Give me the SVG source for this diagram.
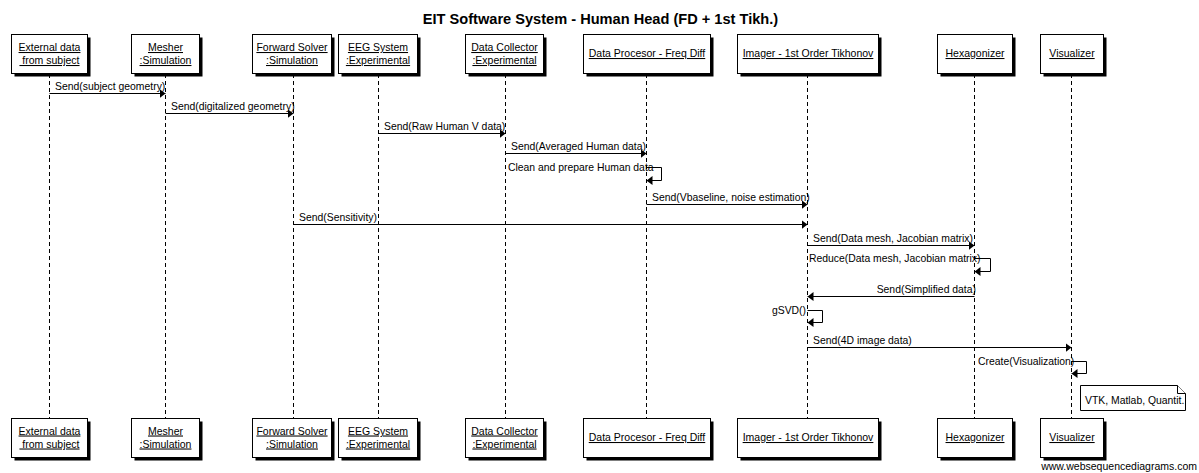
<svg xmlns="http://www.w3.org/2000/svg" width="1199" height="473" viewBox="0 0 1199 473">
<style>
  text { font-family: "Liberation Sans", Arial, sans-serif; fill: #000; }
  .title { font-size: 14.6px; font-weight: bold; text-anchor: middle; }
  .lbl { font-size: 10.5px; text-anchor: middle; text-decoration: underline; }
  .msg { font-size: 10.4px; }
  .end { text-anchor: end; }
  .shadow { fill: #000; stroke: none; }
  .box { fill: #fff; stroke: #000; stroke-width: 1; }
  .life { stroke: #000; stroke-width: 1; stroke-dasharray: 4 3; fill: none; }
  .arr { stroke: #000; stroke-width: 1; fill: none; marker-end: url(#ah); }
  .note { fill: #fff; stroke: #000; stroke-width: 1; }
</style>
<defs>
  <marker id="ah" viewBox="0 0 6 9" refX="6" refY="4.5" markerWidth="6" markerHeight="9" markerUnits="userSpaceOnUse" orient="auto">
    <path d="M0,0 L6,4.5 L0,9 z" fill="#000"/>
  </marker>
</defs>
<rect width="1199" height="473" fill="#fff"/>
<text class="title" x="600.5" y="24">EIT Software System - Human Head (FD + 1st Tikh.)</text>

<g id="lifelines">
  <line class="life" x1="49.5" y1="74" x2="49.5" y2="418"/>
  <line class="life" x1="165.5" y1="74" x2="165.5" y2="418"/>
  <line class="life" x1="293.5" y1="74" x2="293.5" y2="418"/>
  <line class="life" x1="378.5" y1="74" x2="378.5" y2="418"/>
  <line class="life" x1="505.5" y1="74" x2="505.5" y2="418"/>
  <line class="life" x1="646.5" y1="74" x2="646.5" y2="418"/>
  <line class="life" x1="807.5" y1="74" x2="807.5" y2="418"/>
  <line class="life" x1="974.5" y1="74" x2="974.5" y2="418"/>
  <line class="life" x1="1071.5" y1="74" x2="1071.5" y2="418"/>
</g>

<g id="p-external">
  <rect class="shadow" x="14.5" y="37.5" width="76" height="39"/>
  <rect class="box" x="11.5" y="34.5" width="76" height="39"/>
  <text class="lbl" x="49.5" y="51">External data</text>
  <text class="lbl" x="49.5" y="64" xml:space="preserve"> from subject</text>
  <rect class="shadow" x="14.5" y="421.5" width="76" height="39"/>
  <rect class="box" x="11.5" y="418.5" width="76" height="39"/>
  <text class="lbl" x="49.5" y="434.5">External data</text>
  <text class="lbl" x="49.5" y="447.5" xml:space="preserve"> from subject</text>
</g>
<g id="p-mesher">
  <rect class="shadow" x="134.5" y="37.5" width="68" height="39"/>
  <rect class="box" x="131.5" y="34.5" width="68" height="39"/>
  <text class="lbl" x="165.5" y="51">Mesher</text>
  <text class="lbl" x="165.5" y="64">:Simulation</text>
  <rect class="shadow" x="134.5" y="421.5" width="68" height="39"/>
  <rect class="box" x="131.5" y="418.5" width="68" height="39"/>
  <text class="lbl" x="165.5" y="434.5">Mesher</text>
  <text class="lbl" x="165.5" y="447.5">:Simulation</text>
</g>
<g id="p-forward">
  <rect class="shadow" x="255.5" y="37.5" width="79" height="39"/>
  <rect class="box" x="252.5" y="34.5" width="79" height="39"/>
  <text class="lbl" x="292" y="51">Forward Solver</text>
  <text class="lbl" x="292" y="64">:Simulation</text>
  <rect class="shadow" x="255.5" y="421.5" width="79" height="39"/>
  <rect class="box" x="252.5" y="418.5" width="79" height="39"/>
  <text class="lbl" x="292" y="434.5">Forward Solver</text>
  <text class="lbl" x="292" y="447.5">:Simulation</text>
</g>
<g id="p-eeg">
  <rect class="shadow" x="341.5" y="37.5" width="79" height="39"/>
  <rect class="box" x="338.5" y="34.5" width="79" height="39"/>
  <text class="lbl" x="378" y="51">EEG System</text>
  <text class="lbl" x="378" y="64">:Experimental</text>
  <rect class="shadow" x="341.5" y="421.5" width="79" height="39"/>
  <rect class="box" x="338.5" y="418.5" width="79" height="39"/>
  <text class="lbl" x="378" y="434.5">EEG System</text>
  <text class="lbl" x="378" y="447.5">:Experimental</text>
</g>
<g id="p-collector">
  <rect class="shadow" x="468.5" y="37.5" width="78" height="39"/>
  <rect class="box" x="465.5" y="34.5" width="78" height="39"/>
  <text class="lbl" x="504.5" y="51">Data Collector</text>
  <text class="lbl" x="504.5" y="64">:Experimental</text>
  <rect class="shadow" x="468.5" y="421.5" width="78" height="39"/>
  <rect class="box" x="465.5" y="418.5" width="78" height="39"/>
  <text class="lbl" x="504.5" y="434.5">Data Collector</text>
  <text class="lbl" x="504.5" y="447.5">:Experimental</text>
</g>
<g id="p-processor">
  <rect class="shadow" x="586.5" y="37.5" width="127" height="39"/>
  <rect class="box" x="583.5" y="34.5" width="127" height="39"/>
  <text class="lbl" x="647" y="57">Data Procesor - Freq Diff</text>
  <rect class="shadow" x="586.5" y="421.5" width="127" height="39"/>
  <rect class="box" x="583.5" y="418.5" width="127" height="39"/>
  <text class="lbl" x="647" y="441">Data Procesor - Freq Diff</text>
</g>
<g id="p-imager">
  <rect class="shadow" x="740.5" y="37.5" width="141" height="39"/>
  <rect class="box" x="737.5" y="34.5" width="141" height="39"/>
  <text class="lbl" x="808" y="57">Imager - 1st Order Tikhonov</text>
  <rect class="shadow" x="740.5" y="421.5" width="141" height="39"/>
  <rect class="box" x="737.5" y="418.5" width="141" height="39"/>
  <text class="lbl" x="808" y="441">Imager - 1st Order Tikhonov</text>
</g>
<g id="p-hexagonizer">
  <rect class="shadow" x="940.5" y="37.5" width="75" height="39"/>
  <rect class="box" x="937.5" y="34.5" width="75" height="39"/>
  <text class="lbl" x="975" y="57">Hexagonizer</text>
  <rect class="shadow" x="940.5" y="421.5" width="75" height="39"/>
  <rect class="box" x="937.5" y="418.5" width="75" height="39"/>
  <text class="lbl" x="975" y="441">Hexagonizer</text>
</g>
<g id="p-visualizer">
  <rect class="shadow" x="1043.5" y="37.5" width="63" height="39"/>
  <rect class="box" x="1040.5" y="34.5" width="63" height="39"/>
  <text class="lbl" x="1072" y="57">Visualizer</text>
  <rect class="shadow" x="1043.5" y="421.5" width="63" height="39"/>
  <rect class="box" x="1040.5" y="418.5" width="63" height="39"/>
  <text class="lbl" x="1072" y="441">Visualizer</text>
</g>

<g id="connectors">
  <line class="arr" x1="49.5" y1="93.5" x2="165.5" y2="93.5"/>
  <text class="msg" x="55" y="89.5">Send(subject geometry)</text>

  <line class="arr" x1="165.5" y1="113.5" x2="293.5" y2="113.5"/>
  <text class="msg" x="171" y="109.5">Send(digitalized geometry)</text>

  <line class="arr" x1="378.5" y1="133.5" x2="505.5" y2="133.5"/>
  <text class="msg" x="384" y="129.5">Send(Raw Human V data)</text>

  <line class="arr" x1="505.5" y1="153.5" x2="646.5" y2="153.5"/>
  <text class="msg" x="511" y="149.5">Send(Averaged Human data)</text>

  <path class="arr" d="M646.5,167.5 H661.5 V180.5 H646.5"/>
  <text class="msg" x="508" y="171">Clean and prepare Human data</text>

  <line class="arr" x1="646.5" y1="204.5" x2="807.5" y2="204.5"/>
  <text class="msg" x="652" y="200.5">Send(Vbaseline, noise estimation)</text>

  <line class="arr" x1="293.5" y1="224.5" x2="807.5" y2="224.5"/>
  <text class="msg" x="299" y="220.5">Send(Sensitivity)</text>

  <line class="arr" x1="807.5" y1="245.5" x2="974.5" y2="245.5"/>
  <text class="msg" x="813" y="241.5">Send(Data mesh, Jacobian matrix)</text>

  <path class="arr" d="M974.5,258.5 H990.5 V271.5 H974.5"/>
  <text class="msg" x="809" y="262">Reduce(Data mesh, Jacobian matrix)</text>

  <line class="arr" x1="974.5" y1="296.5" x2="807.5" y2="296.5"/>
  <text class="msg end" x="976" y="292.5">Send(Simplified data)</text>

  <path class="arr" d="M807.5,310.5 H822.5 V322.5 H807.5"/>
  <text class="msg end" x="806" y="314">gSVD()</text>

  <line class="arr" x1="807.5" y1="347.5" x2="1071.5" y2="347.5"/>
  <text class="msg" x="813" y="343.5">Send(4D image data)</text>

  <path class="arr" d="M1071.5,361.5 H1086.5 V373.5 H1071.5"/>
  <text class="msg" x="978" y="365">Create(Visualization)</text>
</g>

<g id="note">
  <path class="note" d="M1080.5,385.5 H1177.5 L1185.5,393.5 V410.5 H1080.5 Z"/>
  <path class="note" d="M1177.5,385.5 V393.5 H1185.5" fill="none"/>
  <text class="msg" x="1085" y="403.5">VTK, Matlab, Quantit.</text>
</g>

<text class="msg end" x="1197" y="470" style="font-size:10.5px">www.websequencediagrams.com</text>
</svg>
